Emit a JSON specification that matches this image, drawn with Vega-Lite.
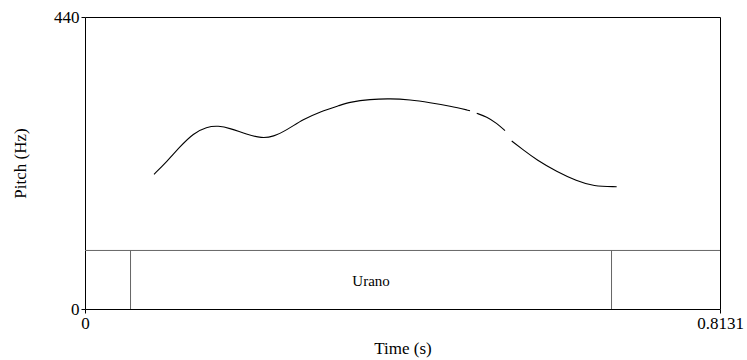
{
  "$schema": "https://vega.github.io/schema/vega-lite/v6.json",
  "autosize": {"type": "none"},
  "padding": {"left": 85, "top": 17, "right": 27, "bottom": 51},
  "width": 635,
  "height": 292,
  "background": "white",
  "config": {
    "view": {"stroke": "black", "strokeWidth": 1},
    "font": "Liberation Serif",
    "text": {"font": "Liberation Serif"},
    "axis": {"grid": false, "domain": false, "tickColor": "black", "labelColor": "black", "titleColor": "black", "labelFont": "Liberation Serif", "titleFont": "Liberation Serif", "labelFontSize": 17, "titleFontSize": 17, "titleFontWeight": "normal", "tickSize": 4, "labelPadding": 2}
  },
  "datasets": {
    "pitch": [
      {"t": 0.0884, "hz": 203.0, "seg": 1},
      {"t": 0.1046, "hz": 221.9, "seg": 1},
      {"t": 0.1216, "hz": 244.6, "seg": 1},
      {"t": 0.1387, "hz": 264.7, "seg": 1},
      {"t": 0.1558, "hz": 274.5, "seg": 1},
      {"t": 0.1707, "hz": 276.2, "seg": 1},
      {"t": 0.1857, "hz": 272.3, "seg": 1},
      {"t": 0.2071, "hz": 263.2, "seg": 1},
      {"t": 0.2263, "hz": 257.2, "seg": 1},
      {"t": 0.2411, "hz": 259.6, "seg": 1},
      {"t": 0.2583, "hz": 269.7, "seg": 1},
      {"t": 0.2795, "hz": 285.8, "seg": 1},
      {"t": 0.3009, "hz": 297.3, "seg": 1},
      {"t": 0.3265, "hz": 306.9, "seg": 1},
      {"t": 0.3393, "hz": 311.9, "seg": 1},
      {"t": 0.3649, "hz": 316.0, "seg": 1},
      {"t": 0.3906, "hz": 317.2, "seg": 1},
      {"t": 0.4162, "hz": 315.2, "seg": 1},
      {"t": 0.4418, "hz": 310.9, "seg": 1},
      {"t": 0.4674, "hz": 305.9, "seg": 1},
      {"t": 0.4930, "hz": 298.8, "seg": 1},
      {"t": 0.5016, "hz": 294.9, "seg": 2},
      {"t": 0.5144, "hz": 289.8, "seg": 2},
      {"t": 0.5272, "hz": 279.8, "seg": 2},
      {"t": 0.5378, "hz": 268.7, "seg": 2},
      {"t": 0.5464, "hz": 253.1, "seg": 3},
      {"t": 0.5613, "hz": 239.6, "seg": 3},
      {"t": 0.5784, "hz": 224.5, "seg": 3},
      {"t": 0.6040, "hz": 206.9, "seg": 3},
      {"t": 0.6296, "hz": 192.9, "seg": 3},
      {"t": 0.6509, "hz": 184.8, "seg": 3},
      {"t": 0.6808, "hz": 184.3, "seg": 3}
    ],
    "tier": [{"hz": 88.2}],
    "bounds": [{"t": 0.0583, "lo": 0, "hi": 88.2}, {"t": 0.6742, "lo": 0, "hi": 88.2}],
    "labels": [{"t": 0.3663, "hz": 42, "text": "Urano"}]
  },
  "encoding": {
    "x": {"type": "quantitative", "scale": {"domain": [0, 0.8131], "nice": false, "zero": false}},
    "y": {"type": "quantitative", "scale": {"domain": [0, 440], "nice": false, "zero": false}}
  },
  "layer": [
    {
      "data": {"name": "pitch"},
      "mark": {"type": "line", "color": "black", "strokeWidth": 1.1, "interpolate": "basis"},
      "encoding": {
        "x": {"field": "t", "type": "quantitative", "axis": {"values": [0, 0.8131], "format": ".4~f", "title": "Time (s)", "titleY": 44, "titleBaseline": "alphabetic", "labelFlush": false}},
        "y": {"field": "hz", "type": "quantitative", "axis": {"values": [0, 440], "format": "d", "title": "Pitch (Hz)", "titleX": -65, "titleY": 146, "titleAngle": -90, "titleAlign": "center", "titleBaseline": "middle", "labelBaseline": "middle"}},
        "detail": {"field": "seg", "type": "nominal"}
      }
    },
    {
      "data": {"name": "tier"},
      "mark": {"type": "rule", "color": "#666666", "strokeWidth": 1},
      "encoding": {"y": {"field": "hz", "type": "quantitative"}}
    },
    {
      "data": {"name": "bounds"},
      "mark": {"type": "rule", "color": "#666666", "strokeWidth": 1},
      "encoding": {
        "x": {"field": "t", "type": "quantitative"},
        "y": {"field": "lo", "type": "quantitative"},
        "y2": {"field": "hi"}
      }
    },
    {
      "data": {"name": "labels"},
      "mark": {"type": "text", "font": "Liberation Serif", "fontSize": 15, "color": "black", "baseline": "middle", "align": "center"},
      "encoding": {
        "x": {"field": "t", "type": "quantitative"},
        "y": {"field": "hz", "type": "quantitative"},
        "text": {"field": "text"}
      }
    }
  ]
}
